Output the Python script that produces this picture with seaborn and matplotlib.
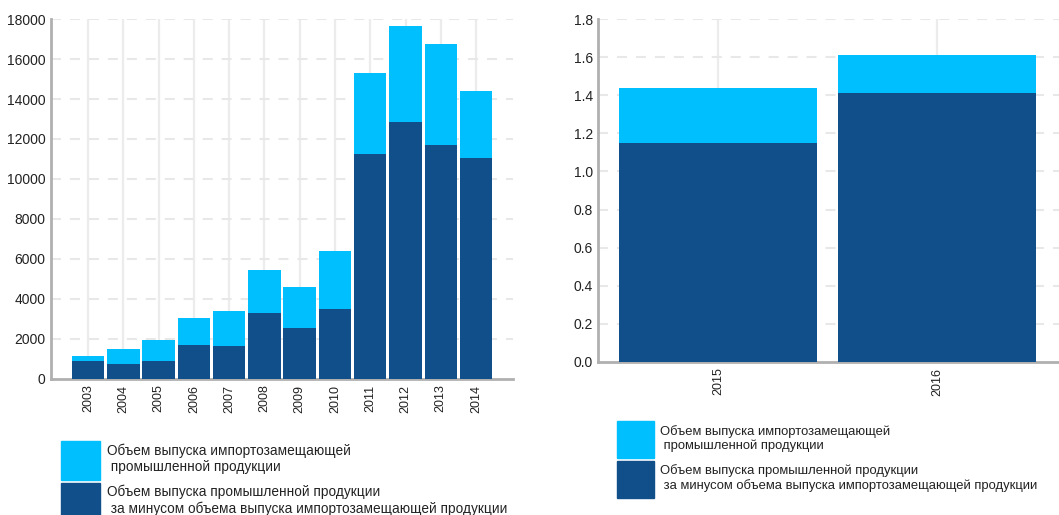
import matplotlib
matplotlib.use('Agg')
import matplotlib.pyplot as plt
import seaborn as sns
import pandas as pd
from matplotlib.patches import Patch

# Data
years_a = ['2003', '2004', '2005', '2006', '2007', '2008', '2009', '2010', '2011', '2012', '2013', '2014']
total_a = [1150, 1500, 1950, 3050, 3400, 5450, 4600, 6400, 15300, 17650, 16750, 14400]
base_a = [900, 750, 900, 1700, 1650, 3300, 2550, 3500, 11250, 12850, 11700, 11050]

years_b = ['2015', '2016']
total_b = [1.44, 1.61]
base_b = [1.15, 1.41]

label_import = 'Объем выпуска импортозамещающей\n промышленной продукции'
label_rest = 'Объем выпуска промышленной продукции\n за минусом объема выпуска импортозамещающей продукции'

light = '#00bfff'
dark = '#114f8a'

sns.set_style('white')
plt.rcParams['font.family'] = ['Liberation Sans', 'DejaVu Sans']
plt.rcParams['text.color'] = '#222222'
plt.rcParams['xtick.color'] = '#222222'
plt.rcParams['ytick.color'] = '#222222'

df_a = pd.DataFrame({'year': years_a, 'total': total_a, 'base': base_a})
df_b = pd.DataFrame({'year': years_b, 'total': total_b, 'base': base_b})

fig = plt.figure(figsize=(10.59, 5.15), dpi=100)
ax1 = fig.add_axes([0.0482, 0.2641, 0.4363, 0.699])
ax2 = fig.add_axes([0.5647, 0.2971, 0.4353, 0.666])


def style_axes(ax, n, yticks, fmt, ysize):
    ax.set_axisbelow(True)
    for i in range(n):
        ax.axvline(i, color='#ececec', lw=1.6, zorder=0)
    for t in yticks[1:]:
        ax.axhline(t, color='#e8e8e8', lw=1.5, ls=(0, (4.8, 4.3)), zorder=0)
    ax.set_yticks(yticks)
    ax.set_yticklabels([fmt(t) for t in yticks], fontsize=ysize)
    ax.set_ylim(yticks[0], yticks[-1])
    for s in ['top', 'right']:
        ax.spines[s].set_visible(False)
    for s in ['left', 'bottom']:
        ax.spines[s].set_color('#b0b0b0')
        ax.spines[s].set_linewidth(2)
    ax.tick_params(axis='both', length=0)
    ax.tick_params(axis='y', pad=4)
    ax.tick_params(axis='x', pad=4, labelsize=9, labelrotation=90)
    ax.set_xlabel('')
    ax.set_ylabel('')


# Left chart
sns.barplot(data=df_a, x='year', y='total', color=light, width=0.92, saturation=1, linewidth=0, ax=ax1, zorder=2)
sns.barplot(data=df_a, x='year', y='base', color=dark, width=0.92, saturation=1, linewidth=0, ax=ax1, zorder=3)
style_axes(ax1, len(years_a), [0, 2000, 4000, 6000, 8000, 10000, 12000, 14000, 16000, 18000],
           lambda t: f'{t:d}', 10)
ax1.set_xlim(-1.05, len(years_a) - 1 + 1.05)

# Right chart
sns.barplot(data=df_b, x='year', y='total', color=light, width=0.9, saturation=1, linewidth=0, ax=ax2, zorder=2)
sns.barplot(data=df_b, x='year', y='base', color=dark, width=0.9, saturation=1, linewidth=0, ax=ax2, zorder=3)
style_axes(ax2, len(years_b), [0.0, 0.2, 0.4, 0.6, 0.8, 1.0, 1.2, 1.4, 1.6, 1.8],
           lambda t: f'{t:.1f}', 10)
ax2.set_xlim(-0.548, 1.557)
ax2.tick_params(axis='y', pad=3.5)

handles = [Patch(color=light, label=label_import), Patch(color=dark, label=label_rest)]

ax1.legend(handles=handles, loc='upper left', bbox_to_anchor=(0.0576, 0.1437),
           bbox_transform=fig.transFigure, frameon=False, fontsize=9.8,
           handlelength=2.865, handleheight=4.03, labelspacing=0.22,
           handletextpad=0.5, borderpad=0, borderaxespad=0)
ax2.legend(handles=handles, loc='upper left', bbox_to_anchor=(0.5826, 0.1825),
           bbox_transform=fig.transFigure, frameon=False, fontsize=9.4,
           handlelength=2.83, handleheight=3.98, labelspacing=0.23,
           handletextpad=0.45, borderpad=0, borderaxespad=0)

fig.savefig('out.png', dpi=100)
